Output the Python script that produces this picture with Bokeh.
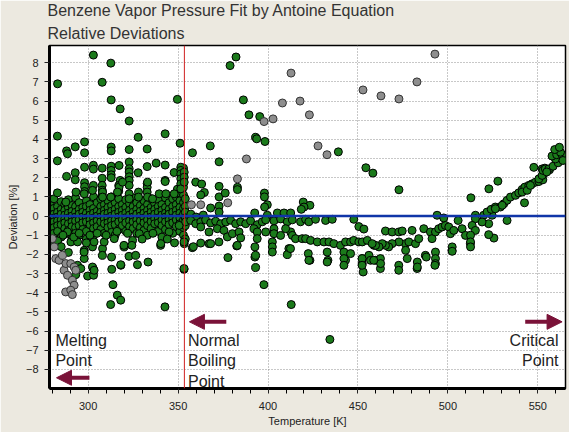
from bokeh.plotting import figure
from bokeh.models import Range1d, FixedTicker, Span, Label, Arrow, NormalHead, Title
from bokeh.embed import file_html
from bokeh.resources import INLINE

# ---------------- data ----------------
T_MELT = 278.5
T_BOIL = 353.5
T_CRIT = 565.4
DEV_MIN, DEV_MAX = -9.0, 8.9

x_major_ticks = [300, 350, 400, 450, 500, 550]
x_minor_ticks = [280, 290, 310, 320, 330, 340, 360, 370, 380, 390, 410, 420, 430, 440,
                 460, 470, 480, 490, 510, 520, 530, 540, 560]
y_ticks = [-8, -7, -6, -5, -4, -3, -2, -1, 0, 1, 2, 3, 4, 5, 6, 7, 8]

# dense band of fitted points between melting and boiling point
band_points = [
    (279, 0.6), (279, 0.25), (279, 0.05), (279, -0.15), (279, -0.4), (279, -0.7), (279, -1.0),
    (281, 0.9), (281, 0.4), (281, 0.1), (281, -0.1), (281, -0.3), (281, -0.6), (281, -0.9), (281, -1.3),
    (283, 0.5), (283, 0.2), (283, -0.05), (283, -0.25), (283, -0.5), (283, -0.8),
    (285, 0.75), (285, 0.35), (285, 0.1), (285, -0.2), (285, -0.45), (285, -1.1),
    (287, 0.6), (287, 0.3), (287, 0.05), (287, -0.15), (287, -0.35), (287, -0.65), (287, -0.95),
    (289, 0.85), (289, 0.45), (289, 0.15), (289, -0.1), (289, -0.4), (289, -0.75),
    (291, 0.55), (291, 0.25), (291, 0.0), (291, -0.3), (291, -0.55), (291, -1.2),
    (293, 0.95), (293, 0.5), (293, 0.2), (293, -0.05), (293, -0.25), (293, -0.6), (293, -0.9),
    (295, 0.7), (295, 0.35), (295, 0.1), (295, -0.2), (295, -0.5), (295, -1.0),
    (297, 0.45), (297, 0.2), (297, -0.05), (297, -0.35), (297, -0.7),
    (299, 0.8), (299, 0.5), (299, 0.15), (299, -0.1), (299, -0.3), (299, -0.8), (299, -1.2),
    (301, 0.6), (301, 0.3), (301, 0.05), (301, -0.2), (301, -0.45),
    (303, 1.0), (303, 0.4), (303, 0.15), (303, -0.1), (303, -0.35), (303, -0.65), (303, -1.0),
    (305, 0.7), (305, 0.25), (305, 0.0), (305, -0.25), (305, -0.55),
    (307, 0.9), (307, 0.5), (307, 0.2), (307, -0.05), (307, -0.3), (307, -0.7),
    (309, 0.6), (309, 0.3), (309, 0.1), (309, -0.15), (309, -0.4), (309, -0.9),
    (311, 0.8), (311, 0.45), (311, 0.15), (311, -0.1), (311, -0.35), (311, -0.6),
    (313, 1.0), (313, 0.55), (313, 0.25), (313, 0.0), (313, -0.25), (313, -0.5), (313, -0.85),
    (315, 0.7), (315, 0.35), (315, 0.1), (315, -0.2), (315, -0.45), (315, -1.0),
    (317, 0.9), (317, 0.5), (317, 0.2), (317, -0.05), (317, -0.3), (317, -0.7),
    (319, 0.6), (319, 0.3), (319, 0.05), (319, -0.2), (319, -0.5),
    (321, 0.85), (321, 0.45), (321, 0.15), (321, -0.1), (321, -0.35), (321, -0.8),
    (323, 0.65), (323, 0.3), (323, 0.05), (323, -0.25), (323, -0.55),
    (325, 0.95), (325, 0.5), (325, 0.2), (325, -0.05), (325, -0.3), (325, -0.65),
    (327, 0.7), (327, 0.35), (327, 0.1), (327, -0.2), (327, -0.45), (327, -0.9),
    (329, 0.55), (329, 0.25), (329, 0.0), (329, -0.25), (329, -0.6),
    (331, 0.8), (331, 0.4), (331, 0.15), (331, -0.1), (331, -0.35), (331, -0.75),
    (333, 0.6), (333, 0.3), (333, 0.05), (333, -0.2), (333, -0.5), (333, -1.0),
    (335, 0.9), (335, 0.45), (335, 0.2), (335, -0.05), (335, -0.3), (335, -0.65),
    (337, 0.65), (337, 0.35), (337, 0.1), (337, -0.15), (337, -0.4),
    (339, 0.85), (339, 0.5), (339, 0.2), (339, -0.1), (339, -0.35), (339, -0.8),
    (341, 0.6), (341, 0.3), (341, 0.05), (341, -0.2), (341, -0.5), (341, -1.1),
    (343, 0.95), (343, 0.45), (343, 0.15), (343, -0.05), (343, -0.3), (343, -0.7),
    (345, 0.7), (345, 0.35), (345, 0.1), (345, -0.2), (345, -0.45),
    (347, 0.9), (347, 0.5), (347, 0.2), (347, -0.1), (347, -0.35), (347, -0.9),
    (349, 1.0), (349, 0.6), (349, 0.3), (349, 0.05), (349, -0.2), (349, -0.55),
    (351, 1.2), (351, 0.8), (351, 0.45), (351, 0.15), (351, -0.1), (351, -0.4), (351, -0.8),
    (353, 2.5), (353, 1.5), (353, 1.1), (353, 0.7), (353, 0.4), (353, 0.1), (353, -0.2), (353, -0.6), (353, -1.0),
    (354, 0.9), (354, 0.5), (354, 0.2), (354, -0.1), (354, -0.5), (354, -1.2),
]

# scattered fitted points below the boiling point
low_points = [
    (283.0, 6.9), (302.9, 8.4), (312.6, 7.98), (307.8, 6.98), (312.8, 6.06), (317.8, 5.59),
    (322.8, 4.96), (327.8, 4.11), (342.8, 4.29), (349.6, 6.09), (351.1, 3.8), (282.9, 4.17),
    (282.9, 2.88), (282.9, 1.21), (288.0, 3.4), (288.5, 3.25), (292.8, 3.61), (298.0, 3.87),
    (298.0, 3.3), (288.0, 2.07), (292.8, 2.26), (292.8, 1.89), (298.0, 2.55), (298.0, 1.74),
    (298.0, 1.53), (298.0, 1.28), (302.9, 2.65), (302.9, 2.45), (302.9, 1.6), (307.8, 2.5),
    (307.8, 1.97), (307.8, 1.6), (307.8, 1.35), (307.8, 1.1), (312.8, 3.6), (312.8, 3.4),
    (312.8, 2.6), (312.8, 2.38), (312.8, 2.15), (312.8, 2.0), (317.2, 2.64), (317.8, 1.86),
    (317.0, 1.6), (317.0, 1.3), (322.8, 2.82), (322.8, 2.47), (322.8, 2.3), (322.8, 2.05),
    (322.8, 1.86), (322.8, 1.6), (322.8, 3.47), (327.8, 2.26), (332.8, 3.5), (332.8, 2.58),
    (332.8, 1.7), (332.8, 1.5), (332.8, 1.25), (337.8, 2.76), (342.8, 2.66), (342.8, 1.86),
    (347.8, 2.27), (349.6, 1.4), (351.5, 2.55), (351.5, 2.38), (351.5, 2.2), (351.5, 1.94),
    (351.5, 1.68), (351.5, 1.42), (353.4, 2.29), (353.4, 2.03), (353.4, 1.77),
    (302.4, 1.34), (312.6, 0.99), (317.2, 1.51), (316.3, 1.25), (319.1, 1.77), (322.8, 1.16),
    (322.8, 0.9), (328.0, 1.25), (328.0, 0.99), (333.0, 1.77), (333.0, 0.99), (335.8, 0.9),
    (339.5, 1.16), (342.8, 1.8), (343.2, 1.16), (347.8, 1.16), (287.6, 0.73), (293.2, 1.25),
    (297.8, 1.16), (308.0, 1.25), (308.0, 0.99),
    (288.5, -0.83), (290.4, -1.35), (294.1, -1.35), (297.8, -1.79), (297.8, -2.22),
    (294.1, -2.57), (302.4, -1.61), (302.8, -2.74), (299.7, -3.13), (303.0, -3.09),
    (308.0, -1.7), (308.9, -1.35), (313.0, -2.14), (318.2, -2.57), (314.5, -1.18),
    (320.0, -1.61), (324.7, -1.27), (293.1, -3.06), (295.9, -2.74), (297.7, -1.88),
    (302.4, -2.66), (303.3, -2.83), (303.3, -1.35), (307.9, -2.05), (313.1, -2.78),
    (313.8, -3.58), (312.5, -4.62), (316.2, -4.13), (318.1, -4.39), (318.1, -2.54),
    (319.9, -1.53), (322.7, -2.1), (326.4, -2.05), (327.4, -2.54), (333.3, -2.4),
    (340.3, -1.53), (342.7, -4.74), (353.3, -2.78), (324.3, -1.53), (328.4, -0.92),
    (340.4, -1.44), (345.0, -0.83), (350.6, -0.49), (353.4, -1.44),
    (281.0, -1.5), (283.0, -1.3), (285.0, -1.6), (286.0, -1.0), (289.0, -1.9), (292.0, -1.1),
    (295.0, -0.9), (299.0, -1.4), (301.0, -1.0), (305.0, -0.9), (310.0, -1.0), (316.0, -0.8),
    (322.0, -0.9), (330.0, -1.2), (336.0, -0.9), (344.0, -1.2), (348.0, -1.4),
]

# fitted points between boiling point and about 460 K
mid_points = [
    (358.0, 3.3), (359.8, 1.77), (363.1, 1.67), (364.6, 1.23), (362.6, 1.1), (367.9, 3.66),
    (372.8, 2.83), (372.8, 1.55), (372.8, 1.0), (376.2, 1.2), (378.9, 7.85), (382.2, 8.3),
    (386.3, 6.06), (389.4, 5.28), (383.0, 1.5), (383.0, 1.38), (393.1, 4.11), (393.7, 4.03),
    (395.4, 5.19), (398.3, 3.89), (398.0, 1.2), (398.0, 1.0), (399.6, 0.59), (398.1, 0.47),
    (368.1, 0.42), (372.8, 0.52), (372.8, 0.21), (419.6, 0.73), (423.3, 0.56), (420.0, 0.47),
    (418.5, 0.35), (392.6, 0.16), (399.6, 0.04), (405.2, 0.16), (408.9, 0.16), (412.6, 0.16),
    (439.1, 3.35), (454.4, 2.52), (458.3, 2.24), (472.8, 1.37), (357.1, 0.1), (360.0, -0.05),
    (364.0, 0.05),
    (354.2, -0.3), (357.0, -0.23), (359.8, -0.4), (362.6, -0.31), (365.3, -0.2), (368.1, -0.36),
    (370.9, -0.27), (373.7, -0.4), (376.5, -0.31), (379.2, -0.22), (382.0, -0.4), (384.8, -0.3),
    (387.6, -0.4), (390.3, -0.25), (394.0, -0.45), (396.8, -0.3), (398.7, -0.2), (403.3, -0.25),
    (407.0, -0.15), (410.7, -0.3), (413.5, -0.2), (418.1, -0.3), (420.9, -0.17), (422.7, -0.3),
    (426.4, -0.17), (432.0, -0.23), (435.7, -0.17), (447.7, -0.17), (450.5, -0.55), (453.3, -0.68),
    (362.6, -0.57), (367.2, -0.83), (371.8, -0.66), (375.5, -0.75), (377.4, -1.09), (380.2, -0.92),
    (383.9, -0.83), (384.8, -1.14), (392.2, -0.66), (394.0, -0.83), (394.0, -1.18), (398.7, -0.83),
    (403.3, -0.66), (403.3, -0.92), (407.0, -1.01), (412.6, -0.83), (413.5, -1.01), (415.3, -1.18),
    (419.0, -1.18), (420.9, -1.18), (423.7, -1.27), (427.4, -1.35), (431.1, -1.35), (433.9, -1.35),
    (436.6, -1.44), (440.3, -1.53), (443.1, -1.35), (445.9, -1.35), (447.7, -1.27), (450.5, -1.35),
    (452.4, -1.35), (455.2, -1.27), (458.9, -1.53),
    (353.3, -1.35), (357.9, -1.65), (362.6, -1.41), (367.2, -1.44), (372.7, -1.35), (382.6, -1.56),
    (392.7, -1.61), (392.7, -2.14), (402.4, -1.35), (402.4, -1.61), (402.4, -1.88), (411.6, -1.7),
    (410.7, -2.01), (422.4, -1.96), (423.3, -2.31), (432.9, -1.88), (433.3, -2.31), (442.2, -1.88),
    (443.1, -2.31), (445.9, -1.96), (452.4, -2.22), (452.4, -2.48), (452.9, -2.92), (456.1, -2.05),
    (459.8, -2.31), (377.7, -2.17), (393.1, -2.69), (353.3, -2.74), (397.7, -3.58),
    (393.1, -2.05), (382.9, -1.53), (358.5, -1.6), (368.1, -1.44),
    (409.8, -0.66), (412.5, -1.7), (422.7, -2.31), (432.9, -2.4), (442.2, -2.22), (442.2, -2.57),
    (452.3, -2.22), (452.3, -2.57), (457.0, -2.31), (412.9, -4.62), (434.4, -6.44),
]

# fitted points from about 460 K up to the critical point
high_points = [
    (462.5, -2.22), (462.5, -2.74), (462.6, -2.48), (472.7, -2.57), (472.7, -2.83), (482.9, -2.74),
    (487.5, -2.05), (493.1, -1.88), (493.1, -2.22), (493.1, -2.48), (502.3, -1.79), (512.5, -1.44),
    (465.3, -0.78), (469.0, -0.83), (472.7, -0.83), (474.6, -0.78), (476.4, -1.44), (478.3, -1.35),
    (482.0, -1.44), (483.8, -1.18), (480.1, -0.75), (486.6, -0.66), (490.3, -0.83), (491.2, -1.18),
    (493.1, -0.83), (494.9, -0.66), (496.8, -0.57), (498.6, -0.49), (500.5, -0.57), (501.4, -0.92),
    (503.3, -0.75), (507.9, -0.66), (509.8, -1.01), (472.8, -1.35), (469.0, -1.44), (467.1, -1.61),
    (465.3, -1.53), (463.5, -1.44), (461.7, -1.61), (459.8, -1.53), (477.4, -2.22), (476.5, -1.79),
    (483.0, -2.4), (483.0, -2.66), (488.0, -2.14), (492.8, -2.57), (457.9, -1.44), (458.8, -2.31),
    (494.0, 0.04), (497.7, -0.1), (515.3, 0.04), (519.9, 0.04), (524.6, 0.04),
    (532.9, -0.23), (522.7, -0.4), (525.6, -1.15), (522.7, -0.97), (519.0, -0.31), (515.3, -0.14),
    (513.5, -0.49), (515.3, -0.75), (512.6, -1.0), (512.6, -1.35), (512.6, -1.61), (505.7, -0.23),
    (502.4, -1.61), (502.4, -1.84),
    (512.8, 0.95), (521.8, 0.21), (524.1, 0.35), (526.4, 0.47), (529.2, 0.47), (531.1, 0.64),
    (532.9, 0.82), (534.8, 0.99), (537.6, 1.08), (539.4, 1.21), (541.3, 1.39), (542.8, 1.51),
    (545.0, 1.6), (546.8, 1.68), (548.7, 1.77), (550.6, 1.8), (552.8, 1.89), (553.3, 2.2),
    (552.4, 2.46), (553.9, 2.5), (556.5, 2.41), (547.8, 2.54), (527.8, 1.82), (522.8, 1.42),
    (542.6, 0.69), (530.2, 0.56), (526.4, 0.38), (541.3, 1.25), (544.1, 1.34), (545.9, 1.6),
    (550.6, 1.94), (552.4, 2.12), (552.9, 2.38), (554.2, 2.46), (556.1, 2.46), (555.0, 2.3),
    (558.5, 2.6), (561.3, 2.78), (559.8, 2.98), (557.9, 3.13), (560.5, 3.2), (563.5, 3.2),
    (564.0, 2.9), (562.6, 3.33), (559.4, 3.47), (562.0, 3.59),
]

# points excluded from the fit (grey)
excluded_points = [
    (357.4, 0.59), (362.6, 0.59), (377.6, 0.69), (383.0, 1.94), (388.0, 2.98), (397.8, 4.93),
    (402.8, 5.07), (408.0, 5.9), (412.8, 7.46), (417.8, 6.0), (423.0, 5.28), (427.8, 3.66),
    (432.8, 3.2), (452.8, 6.58), (462.8, 6.27), (472.8, 6.11), (482.8, 7.0), (492.8, 8.45),
    (280.1, -1.18), (281.1, -1.61), (282.0, -2.22), (283.8, -2.31), (285.7, -2.05), (286.6, -2.83),
    (287.6, -2.48), (288.5, -3.09), (290.3, -2.48), (292.2, -2.66), (293.1, -2.83), (291.2, -3.35),
    (292.2, -3.61), (287.5, -3.96), (290.3, -3.87), (291.2, -4.1),
]

# annotation texts and arrow positions (data units)
melt_label = "Melting\nPoint"
boil_label = "Normal\nBoiling\nPoint"
crit_label = "Critical\nPoint"
melt_arrow = (300.7, 282.4, -8.44)   # x_start, x_end, y
boil_arrow = (376.8, 356.3, -5.52)
crit_arrow = (543.0, 563.5, -5.52)

# ---------------- styling ----------------
BG = "#ECE9E0"
GREEN = "#1B7A1B"
GREY = "#8E8E8E"
MAROON = "#7A1238"
FONT = "Liberation Sans"

fit_points = band_points + low_points + mid_points + high_points
fit_T = [t for t, d in fit_points]
fit_dev = [d for t, d in fit_points]
exc_T = [t for t, d in excluded_points]
exc_dev = [d for t, d in excluded_points]

p = figure(width=569, height=432, title=None,
           x_range=Range1d(T_MELT, T_CRIT), y_range=Range1d(DEV_MIN, DEV_MAX),
           output_backend="svg", toolbar_location=None,
           min_border_left=49, min_border_right=4, min_border_top=45, min_border_bottom=44,
           background_fill_color="white", border_fill_color=BG)

p.outline_line_color = "black"
p.outline_line_width = 1.5

p.add_layout(Title(text="Relative Deviations", align="left", text_font=FONT,
                   text_font_size="16px", text_font_style="normal", text_color="#333333",
                   standoff=8, offset=-2), "above")
p.add_layout(Title(text="Benzene Vapor Pressure Fit by Antoine Equation", align="left",
                   text_font=FONT, text_font_size="16px", text_font_style="normal",
                   text_color="#333333", standoff=-1, offset=-2), "above")

p.xaxis.ticker = FixedTicker(ticks=x_major_ticks, minor_ticks=x_minor_ticks)
p.yaxis.ticker = FixedTicker(ticks=y_ticks)

for ax in (p.xaxis, p.yaxis):
    ax.axis_line_width = 3
    ax.axis_line_color = "black"
    ax.major_tick_line_color = "#222222"
    ax.major_tick_in = 0
    ax.major_tick_out = 5
    ax.minor_tick_in = 0
    ax.minor_tick_out = 5
    ax.major_label_text_font = FONT
    ax.major_label_text_font_size = "11px"
    ax.major_label_text_color = "#222222"
    ax.axis_label_text_font = FONT
    ax.axis_label_text_font_size = "11px"
    ax.axis_label_text_font_style = "normal"
    ax.axis_label_text_color = "#222222"
p.yaxis.minor_tick_line_color = None
p.xaxis.major_label_standoff = 8
p.yaxis.major_label_standoff = 6
p.xaxis.axis_label = "Temperature [K]"
p.yaxis.axis_label = "Deviation [%]"
p.xaxis.axis_label_standoff = 2
p.yaxis.axis_label_standoff = 4

p.grid.grid_line_color = "#909090"
p.grid.grid_line_dash = "1 2"
p.grid.grid_line_width = 1

p.scatter(fit_T, fit_dev, size=8, fill_color=GREEN, line_color="black", line_width=1)
p.scatter(exc_T, exc_dev, size=8, fill_color=GREY, line_color="#333333", line_width=1)

p.add_layout(Span(location=0, dimension="width", line_color="#1035A8", line_width=2.5))
p.add_layout(Span(location=T_BOIL, dimension="height", line_color="#D02020", line_width=1))

lab_kw = dict(text_font=FONT, text_font_size="16px", text_color="#222222",
              text_baseline="top", text_line_height=1.2)
p.add_layout(Label(x=281.8, y=-6.05, text=melt_label, **lab_kw))
p.add_layout(Label(x=355.5, y=-6.05, text=boil_label, **lab_kw))
p.add_layout(Label(x=561.5, y=-6.05, text=crit_label, text_align="right", **lab_kw))

for xs, xe, ya in (melt_arrow, boil_arrow, crit_arrow):
    p.add_layout(Arrow(end=NormalHead(size=15, fill_color=MAROON, line_color=MAROON),
                       x_start=xs, y_start=ya, x_end=xe, y_end=ya,
                       line_color=MAROON, line_width=4))

open("out.html", "w").write(file_html(p, INLINE))
